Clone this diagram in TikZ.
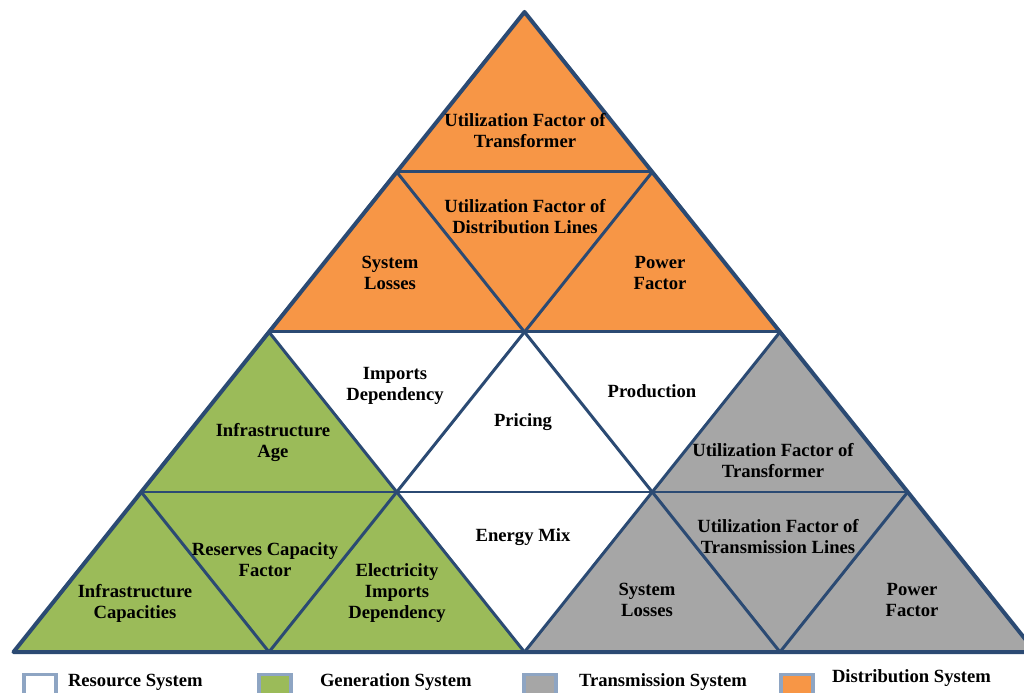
\documentclass[tikz,border=0pt]{standalone}
\usepackage{fontspec}
\setmainfont{Liberation Serif}
\usetikzlibrary{positioning}
\definecolor{resColor}{HTML}{FFFFFF}
\definecolor{genColor}{HTML}{9BBB59}
\definecolor{trColor}{HTML}{A6A6A6}
\definecolor{diColor}{HTML}{F79646}
\definecolor{edgeColor}{HTML}{2B4A73}
\definecolor{keyColor}{HTML}{8EA5C3}
\tikzset{
	lab/.style={font=\fontsize{5.3}{6}\selectfont\bfseries, inner sep=0, outer sep=0},
	keybox/.style={draw=keyColor, line width=0.35mm, minimum size=3.2mm, inner sep=0, anchor=north west},
	keylab/.style={lab, anchor=west}
}

\begin{document}
\begin{tikzpicture}[edge/.style={draw=edgeColor, line width=0.3mm, line join=round}]
	\useasboundingbox (0,0) rectangle (10.24,-6.93);
	% grid points of the pyramid, row \i has \i+1 points
	\foreach \i in {0,...,4} {
		\foreach \j in {0,...,\i} {
			\coordinate (v\i\j) at ({5.245+(\j-\i/2)*2.555}, {-0.12-1.6*\i});
		}
	}
	\fill[diColor] (v00) -- (v20) -- (v22) -- cycle;
	\fill[genColor] (v20) -- (v40) -- (v42) -- cycle;
	\fill[trColor] (v22) -- (v42) -- (v44) -- cycle;
	\fill[resColor] (v20) -- (v22) -- (v42) -- cycle;
	% inner lines
	\path[edge] (v10) -- (v11) (v20) -- (v22) (v30) -- (v33);
	\path[edge] (v10) -- (v43) (v20) -- (v42) (v30) -- (v41);
	\path[edge] (v11) -- (v41) (v22) -- (v42) (v33) -- (v43);
	\path[edge, line width=0.4mm] (v00) -- (v40) -- (v44) -- cycle;
	% distribution
	\node[lab] (d_1) at (5.25, -1.33) {\begin{tabular}{c} Utilization Factor of \\ Transformer \end{tabular}};
	\node[lab] (d_2) at (5.25, -2.19) {\begin{tabular}{c} Utilization Factor of \\ Distribution Lines \end{tabular}};
	\node[lab] (d_3) at (3.90, -2.75) {\begin{tabular}{c} System \\ Losses \end{tabular}};
	\node[lab] (d_4) at (6.60, -2.75) {\begin{tabular}{c} Power \\ Factor \end{tabular}};
	% resource
	\node[lab] (r_1) at (3.95, -3.86) {\begin{tabular}{c} Imports \\ Dependency \end{tabular}};
	\node[lab] (r_2) at (5.23, -4.22) {\begin{tabular}{c} Pricing \end{tabular}};
	\node[lab] (r_3) at (6.52, -3.93) {\begin{tabular}{c} Production \end{tabular}};
	\node[lab] (r_4) at (5.23, -5.37) {\begin{tabular}{c} Energy Mix \end{tabular}};
	% generation
	\node[lab] (g_1) at (2.73, -4.43) {\begin{tabular}{c} Infrastructure \\ Age \end{tabular}};
	\node[lab] (g_2) at (2.65, -5.62) {\begin{tabular}{c} Reserves Capacity \\ Factor \end{tabular}};
	\node[lab] (g_3) at (1.35, -6.04) {\begin{tabular}{c} Infrastructure \\ Capacities \end{tabular}};
	\node[lab] (g_4) at (3.97, -5.93) {\begin{tabular}{c} Electricity \\ Imports \\ Dependency \end{tabular}};
	% transmission
	\node[lab] (t_1) at (7.73, -4.63) {\begin{tabular}{c} Utilization Factor of \\ Transformer \end{tabular}};
	\node[lab] (t_2) at (7.78, -5.39) {\begin{tabular}{c} Utilization Factor of \\ Transmission Lines \end{tabular}};
	\node[lab] (t_3) at (6.47, -6.02) {\begin{tabular}{c} System \\ Losses \end{tabular}};
	\node[lab] (t_4) at (9.12, -6.02) {\begin{tabular}{c} Power \\ Factor \end{tabular}};
	% key
	\node[keybox, fill=resColor] (k_1) at (0.22, -6.73) {};
	\node[keybox, fill=genColor] (k_2) at (2.57, -6.73) {};
	\node[keybox, fill=trColor] (k_3) at (5.22, -6.73) {};
	\node[keybox, fill=diColor] (k_4) at (7.79, -6.73) {};
	\node[keylab] (kl_1) at (0.68, -6.82) {Resource System};
	\node[keylab] (kl_2) at (3.20, -6.82) {Generation System};
	\node[keylab] (kl_3) at (5.79, -6.82) {Transmission System};
	\node[keylab] (kl_4) at (8.32, -6.78) {Distribution System};
\end{tikzpicture}
\end{document}
